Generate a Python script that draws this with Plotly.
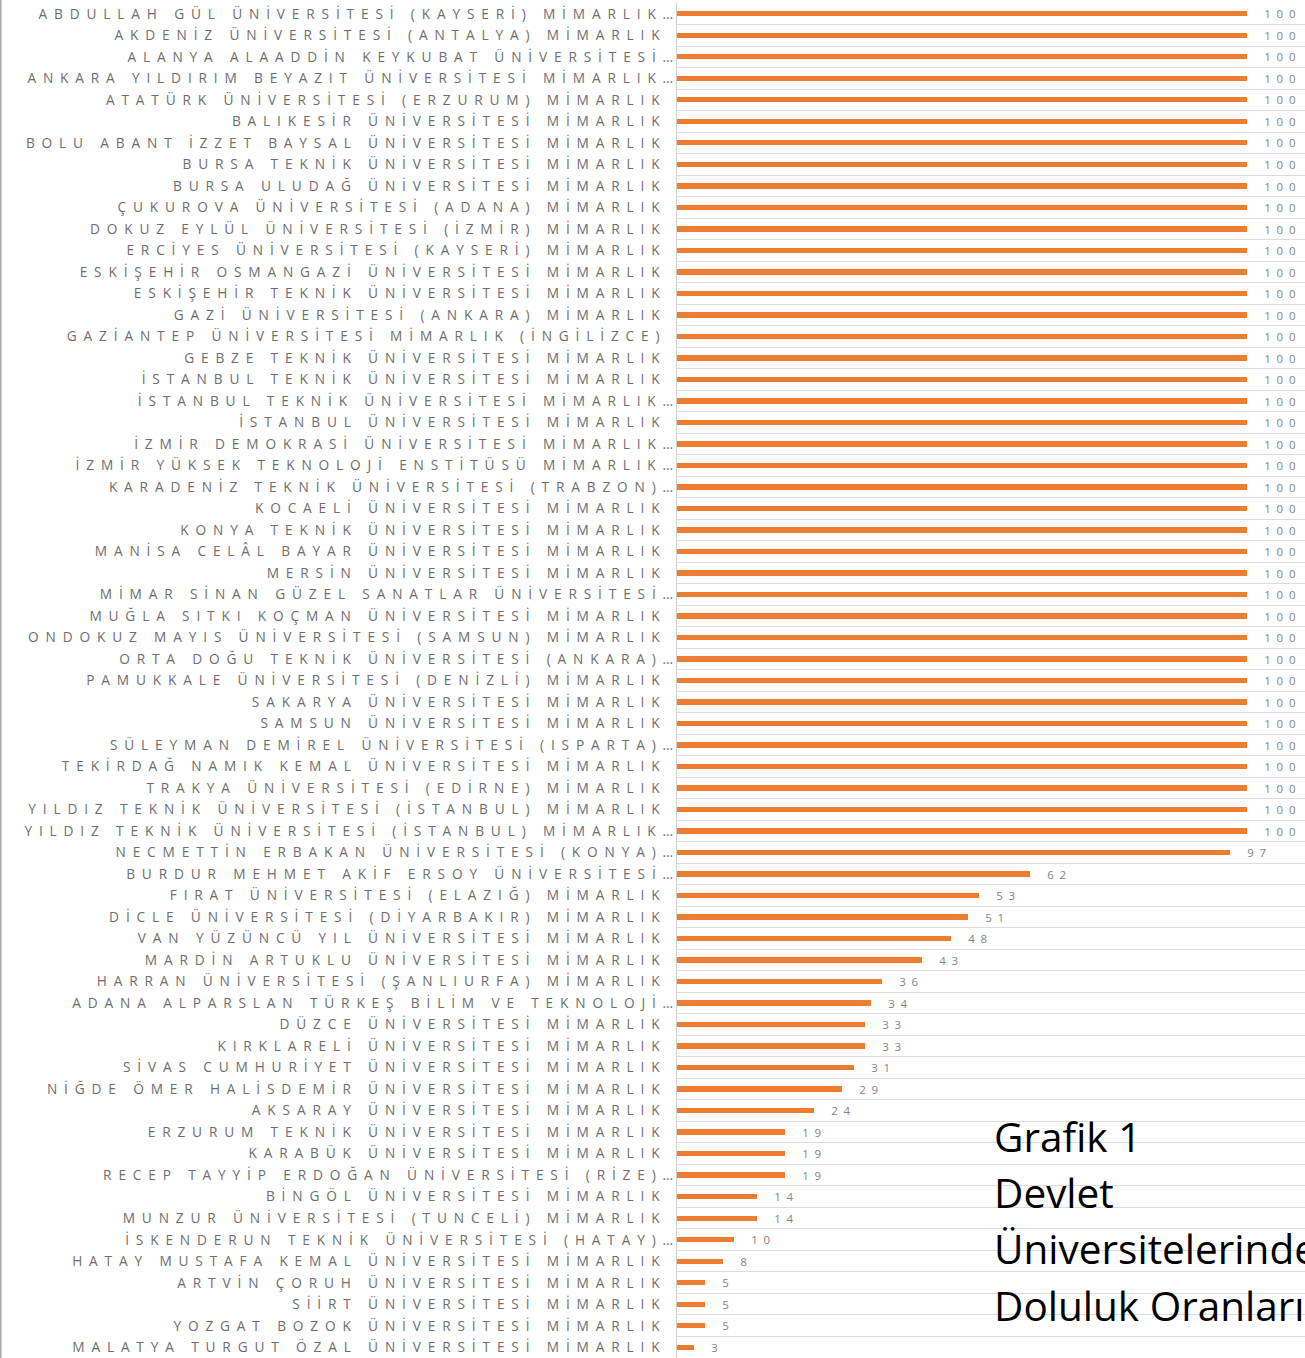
import plotly.graph_objects as go

universities = [
    "ABDULLAH GÜL ÜNİVERSİTESİ (KAYSERİ) MİMARLIK...",
    "AKDENİZ ÜNİVERSİTESİ (ANTALYA) MİMARLIK",
    "ALANYA ALAADDİN KEYKUBAT ÜNİVERSİTESİ...",
    "ANKARA YILDIRIM BEYAZIT ÜNİVERSİTESİ MİMARLIK...",
    "ATATÜRK ÜNİVERSİTESİ (ERZURUM) MİMARLIK",
    "BALIKESİR ÜNİVERSİTESİ MİMARLIK",
    "BOLU ABANT İZZET BAYSAL ÜNİVERSİTESİ MİMARLIK",
    "BURSA TEKNİK ÜNİVERSİTESİ MİMARLIK",
    "BURSA ULUDAĞ ÜNİVERSİTESİ MİMARLIK",
    "ÇUKUROVA ÜNİVERSİTESİ (ADANA) MİMARLIK",
    "DOKUZ EYLÜL ÜNİVERSİTESİ (İZMİR) MİMARLIK",
    "ERCİYES ÜNİVERSİTESİ (KAYSERİ) MİMARLIK",
    "ESKİŞEHİR OSMANGAZİ ÜNİVERSİTESİ MİMARLIK",
    "ESKİŞEHİR TEKNİK ÜNİVERSİTESİ MİMARLIK",
    "GAZİ ÜNİVERSİTESİ (ANKARA) MİMARLIK",
    "GAZİANTEP ÜNİVERSİTESİ MİMARLIK (İNGİLİZCE)",
    "GEBZE TEKNİK ÜNİVERSİTESİ MİMARLIK",
    "İSTANBUL TEKNİK ÜNİVERSİTESİ MİMARLIK",
    "İSTANBUL TEKNİK ÜNİVERSİTESİ MİMARLIK...",
    "İSTANBUL ÜNİVERSİTESİ MİMARLIK",
    "İZMİR DEMOKRASİ ÜNİVERSİTESİ MİMARLIK...",
    "İZMİR YÜKSEK TEKNOLOJİ ENSTİTÜSÜ MİMARLIK...",
    "KARADENİZ TEKNİK ÜNİVERSİTESİ (TRABZON)...",
    "KOCAELİ ÜNİVERSİTESİ MİMARLIK",
    "KONYA TEKNİK ÜNİVERSİTESİ MİMARLIK",
    "MANİSA CELÂL BAYAR ÜNİVERSİTESİ MİMARLIK",
    "MERSİN ÜNİVERSİTESİ MİMARLIK",
    "MİMAR SİNAN GÜZEL SANATLAR ÜNİVERSİTESİ...",
    "MUĞLA SITKI KOÇMAN ÜNİVERSİTESİ MİMARLIK",
    "ONDOKUZ MAYIS ÜNİVERSİTESİ (SAMSUN) MİMARLIK",
    "ORTA DOĞU TEKNİK ÜNİVERSİTESİ (ANKARA)...",
    "PAMUKKALE ÜNİVERSİTESİ (DENİZLİ) MİMARLIK",
    "SAKARYA ÜNİVERSİTESİ MİMARLIK",
    "SAMSUN ÜNİVERSİTESİ MİMARLIK",
    "SÜLEYMAN DEMİREL ÜNİVERSİTESİ (ISPARTA)...",
    "TEKİRDAĞ NAMIK KEMAL ÜNİVERSİTESİ MİMARLIK",
    "TRAKYA ÜNİVERSİTESİ (EDİRNE) MİMARLIK",
    "YILDIZ TEKNİK ÜNİVERSİTESİ (İSTANBUL) MİMARLIK",
    "YILDIZ TEKNİK ÜNİVERSİTESİ (İSTANBUL) MİMARLIK...",
    "NECMETTİN ERBAKAN ÜNİVERSİTESİ (KONYA)...",
    "BURDUR MEHMET AKİF ERSOY ÜNİVERSİTESİ...",
    "FIRAT ÜNİVERSİTESİ (ELAZIĞ) MİMARLIK",
    "DİCLE ÜNİVERSİTESİ (DİYARBAKIR) MİMARLIK",
    "VAN YÜZÜNCÜ YIL ÜNİVERSİTESİ MİMARLIK",
    "MARDİN ARTUKLU ÜNİVERSİTESİ MİMARLIK",
    "HARRAN ÜNİVERSİTESİ (ŞANLIURFA) MİMARLIK",
    "ADANA ALPARSLAN TÜRKEŞ BİLİM VE TEKNOLOJİ...",
    "DÜZCE ÜNİVERSİTESİ MİMARLIK",
    "KIRKLARELİ ÜNİVERSİTESİ MİMARLIK",
    "SİVAS CUMHURİYET ÜNİVERSİTESİ MİMARLIK",
    "NİĞDE ÖMER HALİSDEMİR ÜNİVERSİTESİ MİMARLIK",
    "AKSARAY ÜNİVERSİTESİ MİMARLIK",
    "ERZURUM TEKNİK ÜNİVERSİTESİ MİMARLIK",
    "KARABÜK ÜNİVERSİTESİ MİMARLIK",
    "RECEP TAYYİP ERDOĞAN ÜNİVERSİTESİ (RİZE)...",
    "BİNGÖL ÜNİVERSİTESİ MİMARLIK",
    "MUNZUR ÜNİVERSİTESİ (TUNCELİ) MİMARLIK",
    "İSKENDERUN TEKNİK ÜNİVERSİTESİ (HATAY)...",
    "HATAY MUSTAFA KEMAL ÜNİVERSİTESİ MİMARLIK",
    "ARTVİN ÇORUH ÜNİVERSİTESİ MİMARLIK",
    "SİİRT ÜNİVERSİTESİ MİMARLIK",
    "YOZGAT BOZOK ÜNİVERSİTESİ MİMARLIK",
    "MALATYA TURGUT ÖZAL ÜNİVERSİTESİ MİMARLIK",
]

occupancy = [
    100, 100, 100, 100, 100, 100, 100, 100, 100, 100,
    100, 100, 100, 100, 100, 100, 100, 100, 100, 100,
    100, 100, 100, 100, 100, 100, 100, 100, 100, 100,
    100, 100, 100, 100, 100, 100, 100, 100, 100,
    97, 62, 53, 51, 48, 43, 36, 34, 33, 33, 31, 29, 24,
    19, 19, 19, 14, 14, 10, 8, 5, 5, 5, 3,
]

title_lines = ["Grafik 1", "Devlet", "Üniversitelerindeki", "Doluluk Oranları"]

EN = "\u2002"


def spaced(s):
    ell = s.endswith("...")
    core = s[:-3] if ell else s
    words = core.split(" ")
    out = (EN + " " + EN).join(EN.join(w) for w in words)
    return out + (EN + "\u2026" if ell else EN * 2)


def spaced_num(v):
    return EN * 3 + EN.join(str(v))


labels = [spaced(u) for u in universities]
texts = [spaced_num(v) for v in occupancy]

fig = go.Figure(
    go.Bar(
        x=occupancy,
        y=labels,
        orientation="h",
        width=0.25,
        marker=dict(color="#ED7D31", line=dict(width=0)),
        text=texts,
        textposition="outside",
        constraintext="none",
        cliponaxis=False,
        textfont=dict(family="Open Sans", size=11.5, color="#858585"),
        hoverinfo="skip",
    )
)

W, H = 1305, 1358
ML, MT = 677, 3
fig.update_layout(
    width=W,
    height=H,
    margin=dict(l=ML, r=0, t=MT, b=0),
    paper_bgcolor="white",
    plot_bgcolor="white",
    showlegend=False,
    bargap=0,
    xaxis=dict(
        range=[0, 110.2],
        showgrid=False,
        zeroline=False,
        showticklabels=False,
        ticks="",
        showline=False,
        fixedrange=True,
    ),
    yaxis=dict(
        type="category",
        autorange="reversed",
        tickson="boundaries",
        showgrid=True,
        gridcolor="#dcdcdc",
        gridwidth=1,
        ticks="",
        ticklen=0,
        showline=True,
        linecolor="#d0d0d0",
        linewidth=1,
        tickfont=dict(family="Open Sans", size=13.7, color="#6e6e6e"),
        fixedrange=True,
    ),
)

plot_h = H - MT
ys = [1136, 1192, 1248, 1305]
for line, ypix in zip(title_lines, ys):
    fig.add_annotation(
        text=line,
        xref="paper",
        yref="paper",
        x=(995 - ML) / (W - ML) - 0.004,
        y=1 - (ypix - MT) / plot_h,
        xanchor="left",
        yanchor="middle",
        showarrow=False,
        font=dict(family="Open Sans", size=40.5, color="black"),
    )

# outer chart border on the left edge
fig.add_shape(
    type="line",
    xref="paper",
    yref="paper",
    x0=-(ML - 0.75) / (W - ML),
    x1=-(ML - 0.75) / (W - ML),
    y0=-0.01,
    y1=1.01,
    line=dict(color="#a8a8a8", width=1.5),
)

fig.write_html(
    "out.html",
    config={"displayModeBar": False},
    post_script="document.body.style.margin='0';document.body.style.overflow='hidden';",
)
